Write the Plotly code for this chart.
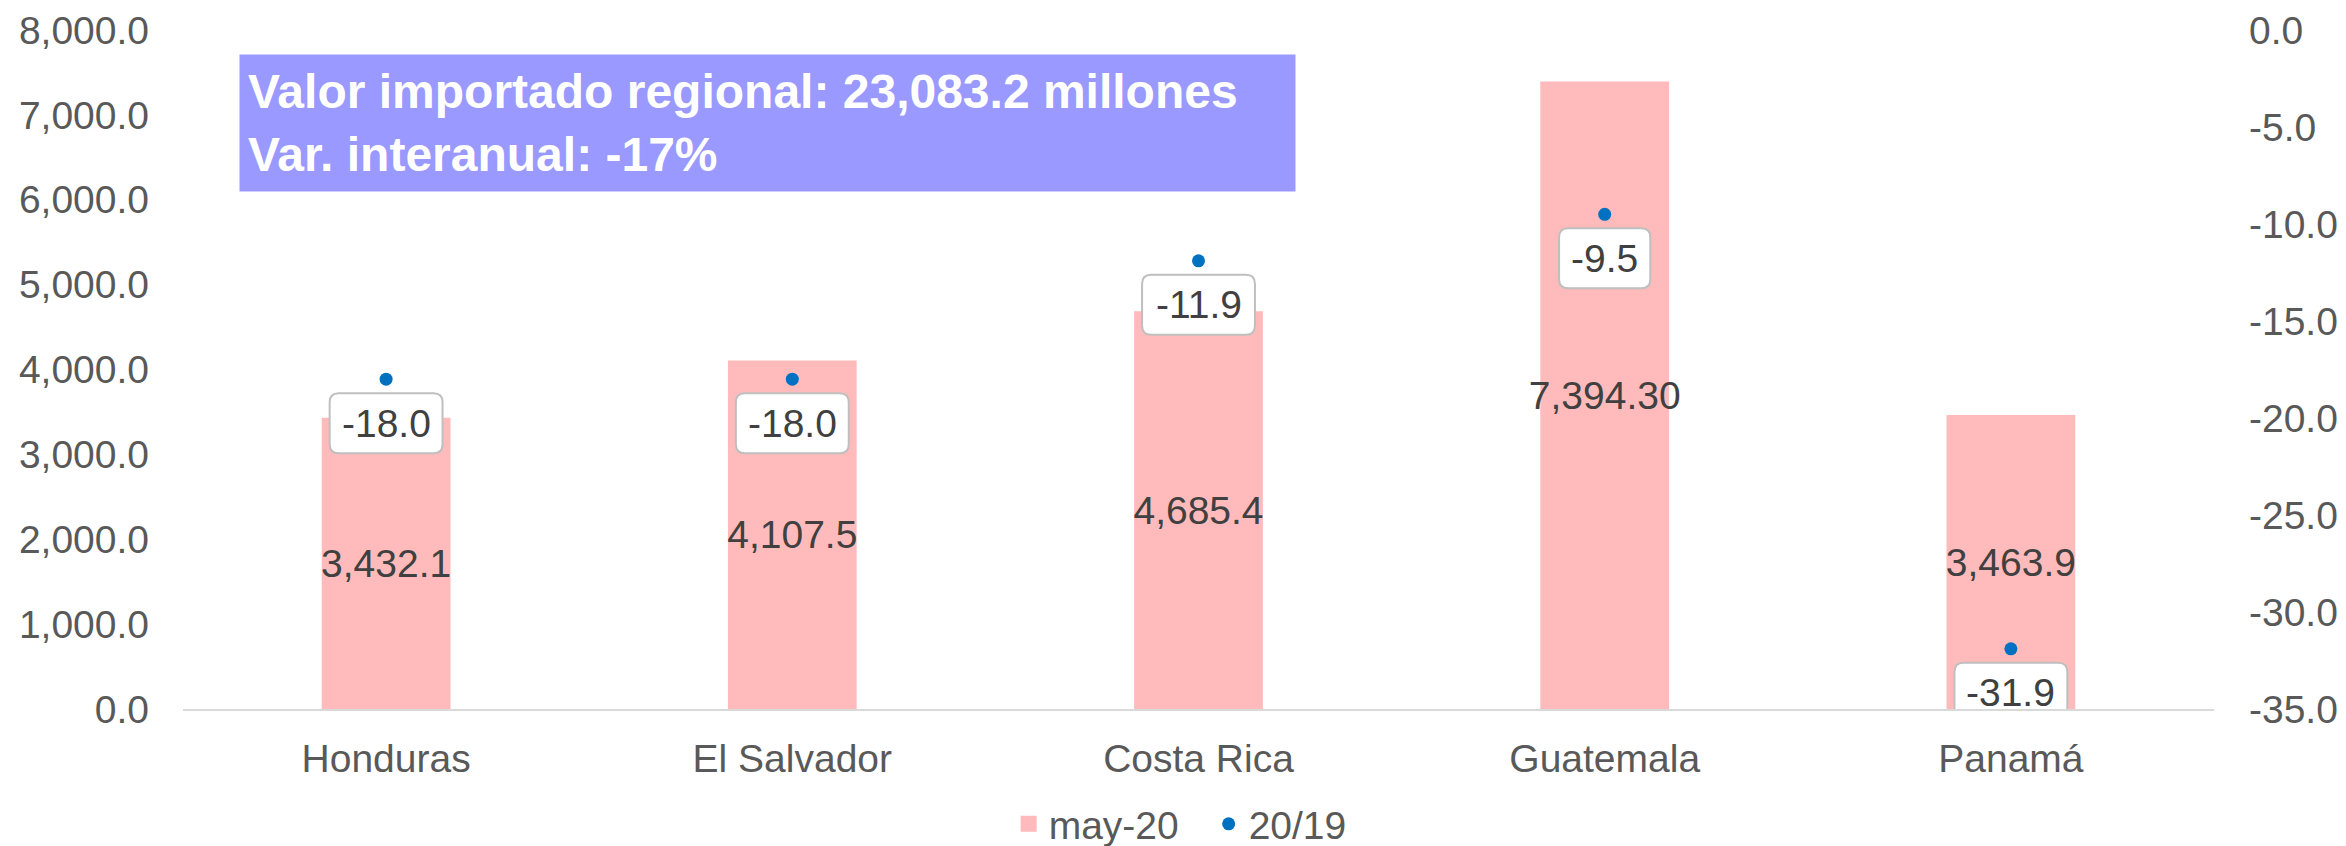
import plotly.graph_objects as go

categories = ["Honduras", "El Salvador", "Costa Rica", "Guatemala", "Panamá"]
valores = [3432.1, 4107.5, 4685.4, 7394.3, 3463.9]
valores_text = ["3,432.1", "4,107.5", "4,685.4", "7,394.30", "3,463.9"]
variacion = [-18.0, -18.0, -11.9, -9.5, -31.9]
variacion_text = ["-18.0", "-18.0", "-11.9", "-9.5", "-31.9"]
y2_tickvals = [0, -5, -10, -15, -20, -25, -30, -35]
y2_ticktext = ["0.0", "-5.0", "-10.0", "-15.0", "-20.0", "-25.0", "-30.0", "-35.0"]
serie_bar = "may-20"
serie_dot = "20/19"
titulo = "<b>Valor importado regional: 23,083.2 millones<br>Var. interanual: -17%</b>"

FONT = "Liberation Sans, Arial, sans-serif"
GRAY = "#595959"
DARK = "#404040"
PINK = "#FFBBBB"
BLUE = "#0070C0"
LBL = 39

# approximate Arial advance widths (em) for label box sizing
CW = {"-": 0.333, ".": 0.278, ",": 0.278}


def text_px(s, size):
    return sum(CW.get(ch, 0.556) for ch in s) * size


def rounded_box(w, h, cy, r=9):
    x0, x1 = -w / 2, w / 2
    y0, y1 = cy - h / 2, cy + h / 2
    return (f"M{x0 + r},{y0} L{x1 - r},{y0} Q{x1},{y0} {x1},{y0 + r} "
            f"L{x1},{y1 - r} Q{x1},{y1} {x1 - r},{y1} L{x0 + r},{y1} "
            f"Q{x0},{y1} {x0},{y1 - r} L{x0},{y0 + r} Q{x0},{y0} {x0 + r},{y0} Z")


fig = go.Figure()
fig.add_trace(go.Bar(
    x=categories, y=valores, name=serie_bar, showlegend=False,
    marker=dict(color=PINK, line=dict(width=0)),
    width=0.317,
    text=valores_text, textposition="inside", insidetextanchor="middle",
    textangle=0,
    textfont=dict(family=FONT, size=LBL, color=DARK),
    cliponaxis=False,
))
# legend entry for the bars (square swatch)
fig.add_trace(go.Scatter(
    x=[None], y=[None], name=serie_bar, mode="markers",
    marker=dict(color=PINK, symbol="square", size=20),
))
fig.add_trace(go.Scatter(
    x=categories, y=variacion, name=serie_dot, yaxis="y2",
    mode="markers", marker=dict(color=BLUE, size=13),
    cliponaxis=False,
))

for c, v, t in zip(categories, variacion, variacion_text):
    w = text_px(t, LBL) + 24
    fig.add_shape(
        type="path", xref="x", yref="y2", xsizemode="pixel", ysizemode="pixel",
        xanchor=c, yanchor=v, path=rounded_box(w, 60, -44),
        fillcolor="white", line=dict(color="#BFBFBF", width=2), layer="above",
    )
    fig.add_annotation(
        x=c, y=v, xref="x", yref="y2", text=t, showarrow=False,
        yshift=-44, font=dict(family=FONT, size=LBL, color=DARK),
    )

fig.add_annotation(
    xref="paper", yref="paper", x=0.0276, y=0.9647,
    xanchor="left", yanchor="top", text=titulo, showarrow=False,
    align="left", width=1039, height=120, borderpad=8,
    bgcolor="#9999FF", font=dict(family=FONT, size=48, color="white"),
)

fig.update_layout(
    width=2346, height=846,
    margin=dict(l=183, r=132, t=30, b=137),
    plot_bgcolor="white", paper_bgcolor="white",
    font=dict(family=FONT, size=39, color=GRAY),
    showlegend=True,
    uniformtext=dict(minsize=LBL, mode="show"),
    legend=dict(orientation="h", x=0.505, xanchor="center",
                yref="container", y=0.026, yanchor="middle",
                font=dict(family=FONT, size=39, color=GRAY), itemsizing="trace",
                traceorder="normal", entrywidth=155),
    xaxis=dict(showgrid=False, showline=True, linecolor="#D9D9D9", linewidth=2,
               ticks="", tickfont=dict(family=FONT, size=39, color=GRAY),
               ticklabelstandoff=14, automargin=False),
    yaxis=dict(range=[0, 8000], dtick=1000, tickformat=",.1f", showgrid=False,
               zeroline=False, showline=False, ticks="", automargin=False,
               tickfont=dict(family=FONT, size=39, color=GRAY), ticklabelstandoff=33),
    yaxis2=dict(range=[-35, 0], tickvals=y2_tickvals, ticktext=y2_ticktext,
                overlaying="y", side="right", automargin=False,
                showgrid=False, zeroline=False, showline=False, ticks="",
                tickfont=dict(family=FONT, size=39, color=GRAY), ticklabelstandoff=34),
)

fig.write_html("out.html", config={"displayModeBar": False},
               post_script="document.body.style.margin='0';")
